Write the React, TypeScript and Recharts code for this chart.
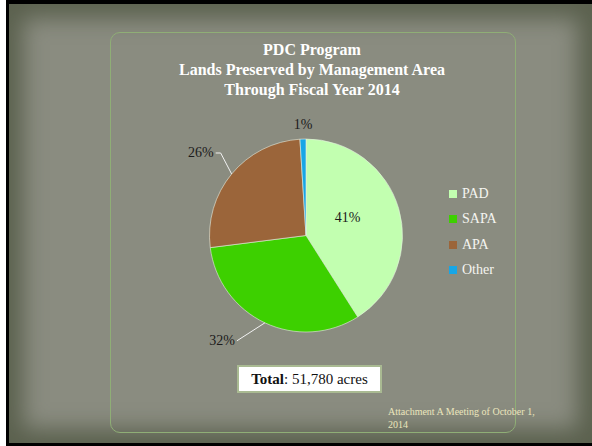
import { PieChart, Pie, Cell } from "recharts";

// Shares of preserved acreage by management area (percent)
const areaNames = ["PAD", "SAPA", "APA", "Other"];
const areaShares = [41, 32, 26, 1];
const areaColors = ["#c2ffb0", "#3dd000", "#9b653a", "#17a6e6"];

const titleLines = [
  "PDC Program",
  "Lands Preserved by Management Area",
  "Through Fiscal Year 2014",
];
const totalAcres = "51,780";
const footnote = ["Attachment A Meeting of October 1,", "2014"];

const chartData = areaNames.map((name, i) => ({ name, value: areaShares[i] }));

const FONT = '"Liberation Serif", "DejaVu Serif", serif';
const RAD = Math.PI / 180;

// how each slice label is drawn (inside / with a leader line / just above)
const labelStyle: Record<string, any> = {
  PAD: { mode: "inside", r: 0.45, dy: -6 },
  SAPA: { mode: "leader", dx: -28, dy: 18, tail: 0 },
  APA: { mode: "leader", dx: -11, dy: -21, tail: -5 },
  Other: { mode: "above", dy: -10 },
};

function SliceLabel(props: any) {
  const { cx, cy, midAngle, outerRadius, percent, name } = props;
  const cfg = labelStyle[name] || { mode: "inside", r: 0.5, dy: 0 };
  const text = `${Math.round(percent * 100)}%`;
  const cos = Math.cos(-midAngle * RAD);
  const sin = Math.sin(-midAngle * RAD);
  const common = { fontFamily: FONT, fontSize: 14, fill: "#1b1b1b" };

  if (cfg.mode === "inside") {
    const r = outerRadius * cfg.r;
    return (
      <text x={cx + r * cos} y={cy + r * sin + cfg.dy} textAnchor="middle" dominantBaseline="central" {...common}>
        {text}
      </text>
    );
  }
  const ex = cx + outerRadius * cos;
  const ey = cy + outerRadius * sin;
  if (cfg.mode === "above") {
    return (
      <text x={ex} y={ey + cfg.dy} textAnchor="middle" {...common}>
        {text}
      </text>
    );
  }
  const mx = ex + cfg.dx;
  const my = ey + cfg.dy;
  const tx = mx + cfg.tail;
  return (
    <g>
      <polyline
        points={`${ex},${ey} ${mx},${my} ${tx},${my}`}
        fill="none"
        stroke="#f2f2f2"
        strokeWidth={1}
      />
      <text x={tx - 2} y={my} textAnchor="end" dominantBaseline="central" {...common}>
        {text}
      </text>
    </g>
  );
}

function LegendList() {
  return (
    <div style={{ position: "absolute", left: 449, top: 181, fontFamily: FONT }}>
      {areaNames.map((n, i) => (
        <div key={n} style={{ display: "flex", alignItems: "center", height: 25.5 }}>
          <span style={{ width: 8, height: 8, background: areaColors[i], marginRight: 5, display: "inline-block" }} />
          <span style={{ color: "#f5f5f0", fontSize: 14 }}>{n}</span>
        </div>
      ))}
    </div>
  );
}

export default function App() {
  return (
    <div style={{ position: "absolute", left: 0, top: 0, width: 592, height: 446, background: "#000", overflow: "hidden" }}>
      {/* slide background */}
      <div style={{ position: "absolute", left: 0, top: 0, width: 6, height: 446, background: "#fff" }} />
      <div
        style={{
          position: "absolute",
          left: 9,
          top: 4,
          width: 583,
          height: 439,
          background: "#8a8c80",
          boxShadow: "inset 0 0 22px 14px #5b614e",
        }}
      />
      {/* frame */}
      <div
        style={{
          position: "absolute",
          left: 110,
          top: 32,
          width: 404,
          height: 399,
          border: "1.5px solid #8fae76",
          borderRadius: 10,
        }}
      />
      {/* title */}
      <div
        style={{
          position: "absolute",
          left: 110,
          top: 40,
          width: 404,
          textAlign: "center",
          color: "#ffffff",
          fontFamily: FONT,
          fontWeight: "bold",
          fontSize: 16,
          lineHeight: "20px",
        }}
      >
        {titleLines.map((t) => (
          <div key={t}>{t}</div>
        ))}
      </div>

      <div style={{ position: "absolute", left: 0, top: 0 }}>
        <PieChart width={592} height={446} margin={{ top: 0, right: 0, bottom: 0, left: 0 }}>
          <Pie
            data={chartData}
            dataKey="value"
            nameKey="name"
            cx={306}
            cy={235.5}
            outerRadius={96.5}
            startAngle={90}
            endAngle={-270}
            stroke="#e6eee0"
            strokeWidth={0.6}
            label={SliceLabel}
            labelLine={false}
            isAnimationActive={false}
          >
            {chartData.map((d, i) => (
              <Cell key={d.name} fill={areaColors[i]} />
            ))}
          </Pie>
        </PieChart>
      </div>

      <LegendList />

      {/* total box */}
      <div
        style={{
          position: "absolute",
          left: 237,
          top: 365,
          width: 141,
          height: 24,
          background: "#fff",
          border: "2px solid #a9ba92",
          fontFamily: FONT,
          fontSize: 15,
          color: "#111",
          textAlign: "center",
          lineHeight: "24px",
        }}
      >
        <b>Total</b>: {totalAcres} acres
      </div>

      {/* footnote */}
      <div
        style={{
          position: "absolute",
          left: 388,
          top: 405,
          fontFamily: FONT,
          fontSize: 10,
          lineHeight: "13px",
          color: "#ebe6bc",
          whiteSpace: "nowrap",
        }}
      >
        {footnote.map((t) => (
          <div key={t}>{t}</div>
        ))}
      </div>
    </div>
  );
}
